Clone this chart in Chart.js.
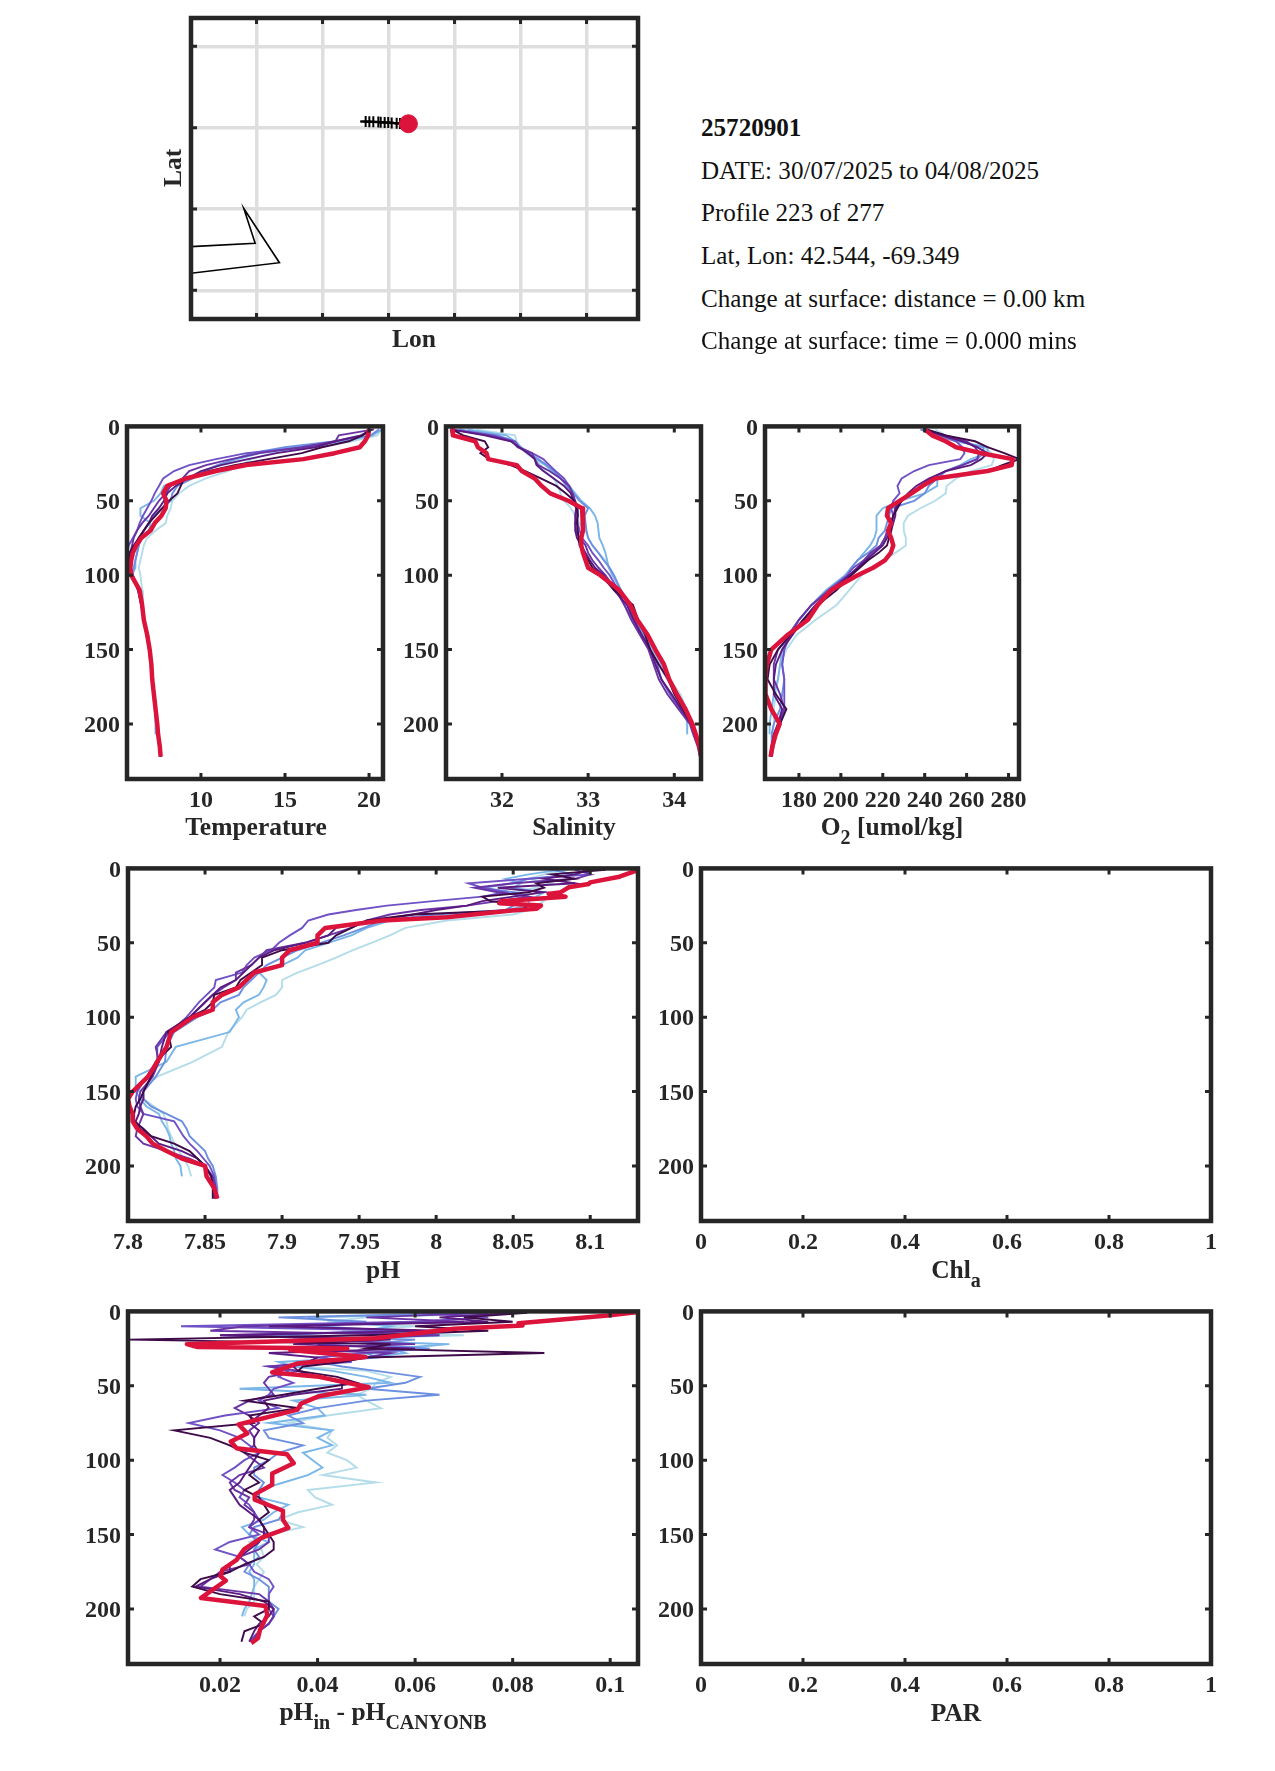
<!DOCTYPE html>
<html>
<head>
<meta charset="utf-8">
<title>25720901</title>
<script src="https://cdn.jsdelivr.net/npm/chart.js@4"></script>
<style>
  html, body { margin: 0; padding: 0; background: #fff; }
  #page { position: relative; width: 1275px; height: 1771px; overflow: hidden; font-family: "Liberation Serif", serif; }
  canvas { position: absolute; }
  .xlabel { position: absolute; width: 400px; height: 30px; line-height: 30px; text-align: center; font-weight: bold; font-size: 25.5px; color: #262626; white-space: nowrap; }
  .xlabel sub { font-size: 20px; line-height: 0; vertical-align: -9px; }
  .info { position: absolute; left: 701px; height: 30px; line-height: 30px; font-size: 25.1px; color: #111; white-space: nowrap; }
</style>
</head>
<body>
<div id="page"></div>
<script>
// --- depth levels ---
const depthLevels = [2,6,10,14,18,22,26,30,35,40,45,50,55,60,65,70,75,80,85,90,95,100,110,120,130,140,150,160,170,180,190,200,207,215,222];
const phLevels = [1,4,7,10,13,16,19,22,25,28,31,35,40,45,50,55,60,65,70,75,80,85,90,95,100,110,120,130,140,150,155,160,165,170,175,180,185,190,195,200,207,215,222];
const phRedDepth = [1.5,5.6,9.4,10.5,12.7,16,17.2,19,22,23.4,25,27.2,28.3,32.8,35,40,45,50,55,60,65,70,75,80,85,90,95,100,110,120,130,140,150,155,160,165,170,175,180,185,190,195,200,207,215,222];
const diffLevels = [1,4,7,10,13,16,19,22,25,28,31,34,37,40,44,48,52,56,60,65,70,75,80,85,90,95,100,105,110,115,120,125,130,135,140,145,150,155,160,165,170,175,180,185,190,195,200,205,210,215,222];
const diffRedDepth = [0.5,2.7,8,9.5,11.6,18,22,24,25,26,30.6,35,41,44,51,57,62,66,76,82,87.5,92,96,102,109,116.5,123,126.5,134,140,145.5,152,160,167,173.5,178,181,192.6,198,204,214,219.5,223];

const depthTicks = [0,50,100,150,200];
const fracTicks = [0,0.2,0.4,0.6,0.8,1];
const tempTicks = [10,15,20];
const salTicks = [32,33,34];
const oxyTicks = [180,200,220,240,260,280];
const phTicks = [7.8,7.85,7.9,7.95,8,8.05,8.1];
const diffTicks = [0.02,0.04,0.06,0.08,0.1];
const lonTicks = [-70.5,-70,-69.5,-69,-68.5,-68];
const latTicks = [43,42.5,42,41.5];

// --- map ---
const coastLon = [-71.2,-70.51,-70.596,-70.326,-71.2];
const coastLat = [41.76,41.79,42.003,41.67,41.585];
const trackLon = [-69.71,-69.673,-69.645,-69.615,-69.577,-69.559,-69.529,-69.502,-69.476,-69.438,-69.413,-69.349];
const trackLat = [42.538,42.538,42.537,42.536,42.535,42.534,42.532,42.531,42.529,42.527,42.526,42.524];
const lastLon = [-69.349];
const lastLat = [42.524];

// --- temperature ---
const tempC1 = [20.7,20.5,19,16.5,14.2,13,12.4,11.6,10.3,9.3,8.7,8.3,8.2,8,7.9,7.3,6.8,6.6,6.5,6.4,6.3,6.4,6.5,6.55,6.65,6.8,6.95,7.05,7.1,7.2,7.25,7.3,7.3];
const tempC2 = [20.8,20.2,18.5,15.5,13.5,12.2,11,10.1,9.4,7.8,7.6,7.2,6.4,6.4,7,6.9,6.5,6.3,6.2,6.1,6.1,5.9,6.3,6.45,6.6,6.75,6.9,7,7.1,7.15,7.25,7.3,7.3];
const tempC3 = [20.6,20.1,18,15,13,12,11,10.2,9.5,8.6,8.3,8.2,7.7,7.2,6.9,6.6,6.4,6.3,6.2,6.1,6,5.9,6.3,6.45,6.6,6.75,6.9,7,7.1,7.2,7.3,7.4,7.45,7.5,7.6];
const tempC4 = [20.2,19.5,18,16.3,12.7,10.9,9.3,8.4,7.75,7.5,7.25,7.05,6.8,6.55,6.35,6.2,5.95,5.7,5.6,5.65,5.75,5.95,6.3,6.45,6.6,6.8,6.95,7.05,7.1,7.2,7.3,7.4,7.45,7.55,7.6];
const tempC5 = [20.3,18.2,18,16,13.5,11.8,10.3,9.3,8.9,8.2,7.9,7.5,7.2,6.9,6.5,6.2,6,5.9,5.8,5.75,5.8,5.95,6.25,6.45,6.6,6.75,6.95,7.05,7.1,7.2,7.3,7.4,7.45,7.55,7.6];
const tempC6 = [20.2,19.6,18,16.8,14.5,12.8,11.2,10,9.2,8.5,8,7.8,7.5,7.1,6.9,6.6,6.3,6.1,5.95,5.85,5.8,5.9,6.25,6.45,6.6,6.8,6.95,7.05,7.1,7.2,7.3,7.4,7.45,7.55,7.6];
const tempC7 = [20.1,19.6,18.8,17.2,16,14,12,10.5,9,8.8,8.6,8.1,7.7,7.3,6.9,6.6,6.3,6,5.75,5.7,5.75,5.9,6.3,6.45,6.6,6.8,6.95,7.05,7.1,7.2,7.3,7.4,7.45,7.55,7.6];
const tempRed = [20,19.95,19.75,19.45,17.95,16.1,12.7,10.9,9.1,8,7.75,7.95,7.9,7.65,7.25,7,6.45,6.15,5.95,5.85,5.8,5.85,6.35,6.5,6.6,6.8,6.95,7.05,7.1,7.2,7.3,7.4,7.45,7.55,7.6];

// --- salinity ---
const salC1 = [31.7,32.15,32.17,32.22,32.28,32.38,32.45,32.5,32.6,32.65,32.68,32.72,32.8,32.85,32.9,32.97,33,33.05,33.12,33.2,33.24,33.3,33.36,33.47,33.58,33.66,33.75,33.87,33.95,34.07,34.14,34.15,34.15];
const salC2 = [31.6,32.05,32.15,32.22,32.32,32.4,32.5,32.58,32.68,32.78,32.85,32.92,33.02,33.08,33.11,33.12,33.13,33.17,33.2,33.22,33.24,33.28,33.38,33.46,33.55,33.65,33.75,33.85,33.95,34.03,34.12,34.15,34.15];
const salC3 = [31.5,31.95,32.15,32.2,32.3,32.42,32.52,32.6,32.68,32.75,32.83,32.9,33,32.96,32.97,32.98,33,33.05,33.12,33.18,33.25,33.3,33.38,33.47,33.55,33.63,33.72,33.82,33.92,34.02,34.12,34.22,34.24,34.28,34.3];
const salC4 = [31.4,31.9,32.15,32.2,32.35,32.48,32.55,32.62,32.72,32.78,32.82,32.84,32.86,32.87,32.88,32.9,32.93,33,33.05,33.12,33.18,33.25,33.35,33.42,33.52,33.62,33.72,33.8,33.85,33.95,34.07,34.2,34.24,34.28,34.3];
const salC5 = [31.4,31.85,32.12,32.18,32.35,32.38,32.42,32.55,32.68,32.78,32.82,32.85,32.88,32.88,32.85,32.86,32.9,32.97,33,33.05,33.12,33.2,33.32,33.42,33.5,33.6,33.7,33.76,33.82,33.92,34.05,34.18,34.22,34.27,34.3];
const salC6 = [31.4,31.8,32.1,32.2,32.3,32.38,32.4,32.48,32.6,32.72,32.8,32.83,32.86,32.85,32.85,32.85,32.87,32.92,32.97,33.02,33.08,33.18,33.3,33.45,33.53,33.62,33.72,33.78,33.85,33.97,34.08,34.2,34.24,34.28,34.3];
const salC7 = [31.42,31.55,31.8,31.84,31.75,31.85,32.1,32.27,32.45,32.63,32.74,32.84,32.87,32.88,32.87,32.88,32.89,32.9,32.95,33,33.05,33.15,33.3,33.52,33.58,33.66,33.72,33.82,33.93,34,34.1,34.2,34.24,34.28,34.31];
const salRed = [31.42,31.43,31.69,31.72,31.82,31.84,32.17,32.23,32.38,32.46,32.56,32.77,32.93,32.94,32.94,32.94,32.92,32.92,32.94,32.97,33,33.14,33.36,33.49,33.57,33.69,33.78,33.88,33.94,34.03,34.13,34.21,34.25,34.29,34.31];

// --- oxygen ---
const oxyC1 = [245,250,257,268,272,273,272,262,255,250.5,250,245,238,232,230,230,231,231,226,220,215,210,204,198,188,179,174,171,170,169,168,168,167];
const oxyC2 = [238,245,255,270,270,262,257,250,246,246,240,228,220,217,217,217,216,214,211,208,205,202,193,186,180,175,172,171,170,168,167,166,166];
const oxyC3 = [238,246,256,268,268,265,258,250,246,242,240,235,224,223,222,221,218,217,213,208,205,203,195,188,182,176,173,172,173,172,171,168,167,167,167];
const oxyC4 = [239,248,255,258,259,257,242,235,229,227,228,225,224,225,224,222,221,219,215,211,206,203,194,186,180,175,173,172,173,173,173,171,169,168,167];
const oxyC5 = [240,250,260,264,266,265,258,250,243,238,234,228,226,225,224,223,221,219,214,211,208,204,195,186,180,176,170,168,168,171,173,170,168,167,167];
const oxyC6 = [240,248,258,265,270,267,262,250,242,236,232,229,226,226,225,224,222,220,216,212,208,204,196,188,182,177,172,169,168,168,172,170,168,167,167];
const oxyC7 = [241,250,264,270,278,285,277,270,244,239,233,229,227,225,224,224,223,222,218,213,209,205,198,189,182,176,170,166,165,169,174,171,169,167,166];
const oxyRed = [240,243.5,250,255,267,282,281.5,270,245,239,233.7,228,222.5,222,224,222.5,224,225,223.8,221,215.4,208,195.4,189,184.3,174.7,166.8,164.7,163.8,164,166.8,170.8,168.9,167.3,166.5];

// --- pH ---
const phC1 = [8.085,8.07,8.06,8.075,8.065,8.05,8.06,8.07,8.065,8.06,8.05,8.007,7.98,7.97,7.958,7.946,7.935,7.923,7.91,7.9,7.9,7.896,7.886,7.877,7.874,7.865,7.861,7.842,7.819,7.807,7.81,7.817,7.823,7.825,7.826,7.828,7.83,7.833,7.836,7.839,7.841];
const phC2 = [8.08,8.06,8.045,8.055,8.05,8.07,8.065,8.06,8.06,8.045,8.02,7.97,7.955,7.945,7.93,7.915,7.91,7.9,7.885,7.89,7.888,7.885,7.875,7.87,7.872,7.866,7.831,7.825,7.805,7.805,7.808,7.812,7.82,7.822,7.825,7.827,7.828,7.83,7.831,7.834,7.835];
const phC3 = [8.075,8.09,8.06,8.05,8.03,8.05,8.06,8.05,8.05,8.045,8,7.965,7.953,7.94,7.925,7.91,7.9,7.89,7.885,7.88,7.875,7.872,7.86,7.855,7.845,7.83,7.825,7.824,7.818,7.81,7.81,7.815,7.825,7.835,7.838,7.84,7.845,7.85,7.852,7.855,7.857,7.858,7.858];
const phC4 = [8.09,8.1,8.06,8.021,8.03,8.045,8.03,7.998,7.968,7.948,7.93,7.917,7.913,7.905,7.898,7.893,7.882,7.877,7.874,7.857,7.856,7.851,7.846,7.842,7.838,7.827,7.819,7.819,7.812,7.806,7.805,7.806,7.81,7.83,7.833,7.836,7.84,7.845,7.849,7.853,7.856,7.857,7.857];
const phC5 = [8.095,8.1,8.09,8.05,8.025,8.04,8.06,8.04,8.02,7.99,7.97,7.955,7.945,7.93,7.915,7.89,7.885,7.88,7.87,7.87,7.862,7.855,7.85,7.845,7.84,7.825,7.818,7.82,7.816,7.808,7.807,7.808,7.81,7.808,7.806,7.805,7.81,7.825,7.84,7.85,7.855,7.857,7.857];
const phC6 = [8.1,8.09,8.07,8.09,8.04,8.07,8.05,8.03,8.02,8,7.985,7.96,7.935,7.93,7.915,7.895,7.885,7.88,7.875,7.87,7.86,7.855,7.85,7.845,7.84,7.825,7.822,7.82,7.815,7.81,7.81,7.808,7.807,7.805,7.808,7.815,7.82,7.835,7.845,7.85,7.854,7.856,7.856];
const phC7 = [8.11,8.075,8.09,8.065,8.07,8.06,8.03,8.035,8.06,8.055,7.985,7.955,7.945,7.935,7.93,7.9,7.887,7.887,7.88,7.873,7.87,7.856,7.855,7.85,7.84,7.826,7.828,7.818,7.815,7.81,7.808,7.805,7.804,7.804,7.81,7.815,7.83,7.84,7.845,7.85,7.854,7.855,7.855];
const phRed = [8.13,8.119,8.1,8.099,8.086,8.081,8.073,8.084,8.042,8.041,8.068,8.065,8.049,8.007,7.965,7.928,7.923,7.923,7.905,7.9,7.9,7.882,7.877,7.872,7.861,7.855,7.855,7.842,7.828,7.825,7.819,7.813,7.803,7.8,7.801,7.803,7.803,7.806,7.812,7.816,7.825,7.835,7.85,7.851,7.856,7.858];

// --- pH minus CANYON-B ---
const diffC1 = [0.081,0.05,0.042,0.06,0.045,0.07,0.04,0.066,0.06,0.053,0.045,0.04,0.036,0.05,0.055,0.052,0.051,0.048,0.05,0.053,0.042,0.034,0.043,0.042,0.044,0.042,0.046,0.048,0.041,0.052,0.038,0.0395,0.043,0.036,0.032,0.037,0.03,0.026,0.0285,0.029,0.0275,0.029,0.028,0.027,0.027,0.027,0.0255,0.025];
const diffC2 = [0.08,0.038,0.045,0.055,0.05,0.065,0.035,0.067,0.055,0.058,0.05,0.032,0.035,0.043,0.05,0.055,0.024,0.05,0.035,0.04,0.0415,0.03,0.043,0.04,0.043,0.037,0.039,0.041,0.038,0.033,0.028,0.028,0.034,0.031,0.029,0.0245,0.026,0.03,0.027,0.027,0.027,0.026,0.027,0.027,0.0265,0.026,0.025,0.0245];
const diffC3 = [0.07,0.032,0.05,0.04,0.055,0.03,0.06,0.05,0.063,0.05,0.052,0.04,0.045,0.052,0.061,0.058,0.05,0.065,0.05,0.04,0.034,0.037,0.029,0.03,0.037,0.032,0.03,0.027,0.027,0.029,0.028,0.028,0.03,0.033,0.032,0.027,0.026,0.028,0.027,0.028,0.026,0.025,0.028,0.03,0.03,0.03,0.032,0.031,0.03,0.028,0.027];
const diffC4 = [0.06,0.075,0.06,0.012,0.06,0.02,0.05,0.04,0.06,0.05,0.04,0.047,0.03,0.034,0.032,0.035,0.031,0.03,0.028,0.032,0.021,0.0136,0.02,0.024,0.026,0.028,0.025,0.023,0.0205,0.023,0.025,0.024,0.026,0.027,0.028,0.026,0.028,0.022,0.019,0.024,0.026,0.027,0.03,0.031,0.03,0.03,0.03,0.031,0.03,0.028,0.026];
const diffC5 = [0.075,0.05,0.07,0.025,0.018,0.065,0.04,0.06,0.03,0.055,0.05,0.04,0.03,0.036,0.03,0.029,0.03,0.031,0.026,0.023,0.026,0.028,0.026,0.027,0.027,0.025,0.027,0.029,0.024,0.022,0.023,0.026,0.025,0.027,0.027,0.026,0.03,0.03,0.028,0.024,0.026,0.02,0.018,0.016,0.028,0.03,0.031,0.031,0.03,0.028,0.0265];
const diffC6 = [0.08,0.065,0.075,0.03,0.065,0.02,0.055,0.035,0.06,0.03,0.04,0.038,0.035,0.036,0.04,0.045,0.045,0.035,0.029,0.03,0.028,0.026,0.028,0.027,0.027,0.028,0.027,0.026,0.025,0.024,0.022,0.023,0.024,0.026,0.028,0.029,0.029,0.028,0.026,0.024,0.022,0.022,0.018,0.015,0.024,0.029,0.031,0.03,0.028,0.027,0.026];
const diffC7 = [0.083,0.07,0.08,0.06,0.075,0.05,0.0013,0.055,0.05,0.0865,0.05,0.045,0.037,0.036,0.044,0.048,0.04,0.033,0.025,0.036,0.026,0.027,0.0106,0.018,0.022,0.025,0.03,0.028,0.026,0.028,0.025,0.028,0.029,0.03,0.028,0.029,0.03,0.031,0.031,0.029,0.025,0.022,0.016,0.0143,0.02,0.03,0.03,0.027,0.029,0.025,0.0244];
const diffRed = [0.1053,0.0995,0.0812,0.082,0.068,0.052,0.0132,0.0154,0.0461,0.0344,0.0498,0.0359,0.0307,0.0403,0.0505,0.0403,0.0366,0.0359,0.0238,0.0256,0.0222,0.0234,0.0337,0.0351,0.0307,0.0307,0.0271,0.0271,0.0329,0.0329,0.034,0.0286,0.0249,0.0234,0.0205,0.0201,0.0212,0.0161,0.0293,0.0297,0.0282,0.0278,0.0264];

// --- styles ---
const ink = '#262626';
const profileColors = ['#b4dde9','#7ab6e8','#6c8fe0','#7052c6','#6a34a6','#5a1a80','#3e0a48'];
const redColor = '#dc143c';

Chart.defaults.font.family = '"Liberation Serif", serif';
Chart.defaults.animation = false;

const page = document.getElementById('page');

// frame and inward ticks, MATLAB style
const framePlugin = {
    id: 'frame',
    afterDatasetsDraw(chart) {
        const { ctx, chartArea: a, scales } = chart;
        ctx.save();
        ctx.strokeStyle = ink;
        ctx.lineWidth = 3;
        ctx.beginPath();
        scales.x.ticks.forEach(t => {
            const p = scales.x.getPixelForValue(t.value);
            ctx.moveTo(p, a.top); ctx.lineTo(p, a.top + 6);
            ctx.moveTo(p, a.bottom); ctx.lineTo(p, a.bottom - 6);
        });
        scales.y.ticks.forEach(t => {
            const p = scales.y.getPixelForValue(t.value);
            ctx.moveTo(a.left, p); ctx.lineTo(a.left + 6, p);
            ctx.moveTo(a.right, p); ctx.lineTo(a.right - 6, p);
        });
        ctx.stroke();
        ctx.lineWidth = 4.5;
        ctx.strokeRect(a.left, a.top, a.right - a.left, a.bottom - a.top);
        ctx.restore();
    }
};

function xy(xs, ys) {
    return xs.map((x, i) => ({ x: x, y: ys[i] }));
}

function profiles(series, red, depths, redDepths) {
    // Chart.js paints lower "order" last, so the dark profiles and the red one end up on top
    const sets = series.map((s, i) => ({
        data: xy(s, depths), borderColor: profileColors[i], borderWidth: 1.9,
        showLine: true, pointRadius: 0, tension: 0, order: series.length - i
    }));
    sets.push({
        data: xy(red, redDepths || depths), borderColor: redColor, borderWidth: 4.5,
        showLine: true, pointRadius: 0, tension: 0, borderJoinStyle: 'round', order: 0
    });
    return sets;
}

// box = frame left, top, right, bottom in page pixels
function panel(box, xMin, xMax, xTicks, yMin, yMax, yTicks, datasets, opts) {
    opts = opts || {};
    const padL = 70, padT = 20, padR = 30, padB = 42;
    const canvas = document.createElement('canvas');
    const w = box[2] - box[0] + padL + padR;
    const h = box[3] - box[1] + padT + padB;
    canvas.style.left = (box[0] - padL) + 'px';
    canvas.style.top = (box[1] - padT) + 'px';
    canvas.style.width = w + 'px';
    canvas.style.height = h + 'px';
    canvas.width = w;
    canvas.height = h;
    page.appendChild(canvas);

    const grid = opts.grid
        ? { display: true, color: '#dedede', lineWidth: 3.5, drawTicks: false }
        : { display: false, drawTicks: false };
    const tickOpts = {
        display: !opts.noLabels, color: ink, autoSkip: false, maxRotation: 0, minRotation: 0,
        font: { size: 24, weight: 'bold' },
        callback: v => String(+Number(v).toFixed(3))
    };

    new Chart(canvas, {
        type: 'scatter',
        data: { datasets: datasets },
        options: {
            responsive: false,
            devicePixelRatio: 1,
            layout: { padding: { top: padT, right: padR, left: 0, bottom: 0 } },
            plugins: { legend: { display: false }, tooltip: { enabled: false } },
            scales: {
                x: {
                    type: 'linear', min: xMin, max: xMax, grid: grid, border: { display: false },
                    ticks: Object.assign({}, tickOpts, { padding: 7 }),
                    afterBuildTicks: s => { s.ticks = xTicks.map(v => ({ value: v })); },
                    afterFit: s => { s.height = padB; }
                },
                y: {
                    type: 'linear', reverse: !opts.lat, min: yMin, max: yMax, grid: grid, border: { display: false },
                    ticks: Object.assign({}, tickOpts, { padding: 7, labelOffset: 2 }),
                    afterBuildTicks: s => { s.ticks = yTicks.map(v => ({ value: v })); },
                    afterFit: s => { s.width = padL; }
                }
            }
        },
        plugins: [framePlugin]
    });
}

function xlabel(cx, cy, html) {
    const d = document.createElement('div');
    d.className = 'xlabel';
    d.style.left = (cx - 200) + 'px';
    d.style.top = (cy - 15) + 'px';
    d.innerHTML = html;
    page.appendChild(d);
    return d;
}

// --- map panel ---
panel([191,18,638,319], -70.996, -67.61, lonTicks, 41.324, 43.174, latTicks, [
    { data: xy(coastLon, coastLat), borderColor: '#000', borderWidth: 1.6, showLine: true, pointRadius: 0, order: 3 },
    { data: xy(trackLon, trackLat), borderColor: '#000', borderWidth: 2, showLine: true, pointStyle: 'cross', pointBorderColor: '#000', pointBorderWidth: 2, order: 2,
      pointRadius: c => c.dataIndex === 0 ? 0 : 5.5 },
    { data: xy(lastLon, lastLat), pointRadius: 9, pointBackgroundColor: redColor, pointBorderColor: redColor, order: 1 }
], { grid: true, noLabels: true, lat: true });
xlabel(414, 339, 'Lon');
xlabel(173, 168, 'Lat').style.transform = 'rotate(-90deg)';

// --- profile panels ---
const yMax = 237;
panel([127,425,383,779], 5.6, 20.83, tempTicks, 0, yMax, depthTicks,
    profiles([tempC1,tempC2,tempC3,tempC4,tempC5,tempC6,tempC7], tempRed, depthLevels));
xlabel(256, 827, 'Temperature');

panel([446,425,701,779], 31.35, 34.31, salTicks, 0, yMax, depthTicks,
    profiles([salC1,salC2,salC3,salC4,salC5,salC6,salC7], salRed, depthLevels));
xlabel(574, 827, 'Salinity');

panel([765,425,1019,779], 163.8, 285, oxyTicks, 0, yMax, depthTicks,
    profiles([oxyC1,oxyC2,oxyC3,oxyC4,oxyC5,oxyC6,oxyC7], oxyRed, depthLevels));
xlabel(892, 827, 'O<sub>2</sub> [umol/kg]');

panel([128,867,638,1221], 7.8, 8.131, phTicks, 0, yMax, depthTicks,
    profiles([phC1,phC2,phC3,phC4,phC5,phC6,phC7], phRed, phLevels, phRedDepth));
xlabel(383, 1270, 'pH');

panel([701,867,1211,1221], 0, 1, fracTicks, 0, yMax, depthTicks, []);
xlabel(956, 1270, 'Chl<sub>a</sub>');

panel([128,1310,638,1664], 0.00113, 0.1057, diffTicks, 0, yMax, depthTicks,
    profiles([diffC1,diffC2,diffC3,diffC4,diffC5,diffC6,diffC7], diffRed, diffLevels, diffRedDepth));
xlabel(383, 1712, 'pH<sub>in</sub> - pH<sub>CANYONB</sub>');

panel([701,1310,1211,1664], 0, 1, fracTicks, 0, yMax, depthTicks, []);
xlabel(956, 1713, 'PAR');

// --- info block ---
const infoLines = ['<b>25720901</b>', 'DATE: 30/07/2025 to 04/08/2025', 'Profile 223 of 277', 'Lat, Lon: 42.544, -69.349', 'Change at surface: distance = 0.00 km', 'Change at surface: time = 0.000 mins'];
const infoY = [128,171,213,256,299,341];
infoLines.forEach((t, i) => {
    const d = document.createElement('div');
    d.className = 'info';
    d.style.top = (infoY[i] - 15) + 'px';
    d.innerHTML = t;
    page.appendChild(d);
});
</script>
</body>
</html>
